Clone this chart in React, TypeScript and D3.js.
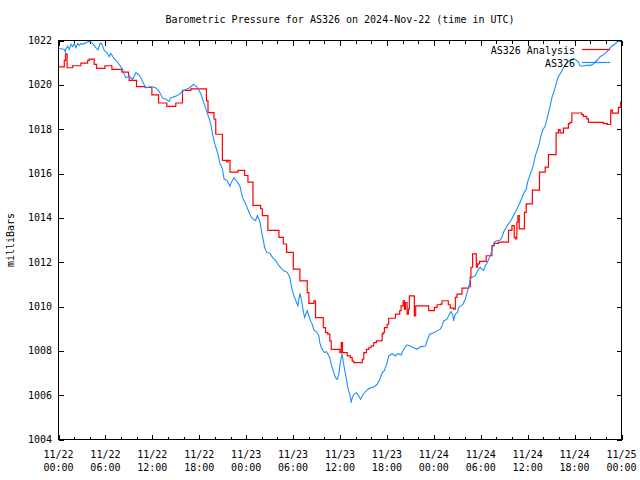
import React from "react";
import * as d3 from "d3";

const titleText = "Barometric Pressure for AS326 on 2024-Nov-22 (time in UTC)";
const yAxisLabel = "milliBars";
const seriesNames = ["AS326 Analysis", "AS326"];
const seriesColors = ["#ff0000", "#1e90ff"];

const yTickValues = [1004, 1006, 1008, 1010, 1012, 1014, 1016, 1018, 1020, 1022];
const xTickHours = [0, 6, 12, 18, 24, 30, 36, 42, 48, 54, 60, 66, 72];
const xTickDates = ["11/22", "11/22", "11/22", "11/22", "11/23", "11/23", "11/23", "11/23", "11/24", "11/24", "11/24", "11/24", "11/25"];
const xTickTimes = ["00:00", "06:00", "12:00", "18:00", "00:00", "06:00", "12:00", "18:00", "00:00", "06:00", "12:00", "18:00", "00:00"];

// AS326 Analysis (hours since 11/22 00:00 UTC, millibars) - stepped
const analysisHours = [
  0, 0.74, 0.9, 1.1, 1.81, 2.87, 3.73, 3.93, 4.57, 4.88, 5.94, 6.83, 8.11, 8.96, 9.04, 9.98,
  11.08, 11.94, 12.8, 13.85, 15.0, 15.86, 16.92, 18.92, 19.12, 19.89, 20.11, 20.96, 21.51, 21.68,
  21.93, 22.95, 23.81, 24.23, 24.87, 25.85, 26.07, 26.78, 28.19, 28.75, 29.17, 30.03, 30.87, 31.81,
  32.02, 32.66, 32.87, 33.86, 34.15, 34.44, 34.7, 34.88, 35.98, 36.16, 36.32, 36.92, 37.34, 37.56,
  37.76, 38.84, 39.04, 39.38, 39.68, 39.98, 40.32, 40.66, 41.39, 41.52, 41.68, 42.03, 42.23, 43.09,
  43.64, 43.81, 44.07, 44.24, 44.36, 44.58, 44.75, 44.87, 45.51, 45.68, 47.34, 48.07, 48.41, 48.83,
  49.05, 49.85, 50.1, 50.53, 50.75, 50.96, 51.6, 52.45, 52.66, 52.75, 52.96, 53.43, 53.6, 53.85,
  54.7, 55.43, 55.73, 56.28, 57.55, 57.99, 58.28, 58.45, 58.62, 58.75, 58.92, 59.59, 59.81, 60.6,
  61.51, 62.24, 62.66, 63.64, 63.94, 64.15, 64.57, 65.21, 65.43, 65.65, 66.92, 67.12, 67.56, 67.77,
  69.68, 70.19, 70.62, 70.83, 71.6, 71.9, 72
];
const analysisValues = [
  1020.81, 1021.1, 1021.4, 1020.77, 1020.86, 1020.98, 1021.1, 1021.16, 1020.92, 1020.74, 1020.86, 1020.7, 1020.57, 1020.39, 1020.2, 1019.92,
  1019.88, 1019.55, 1019.18, 1019.03, 1019.18, 1019.75, 1019.82, 1019.28, 1018.75, 1018.45, 1017.77, 1016.59, 1016.52, 1016.59,
  1016.06, 1016.14, 1015.91, 1015.61, 1014.56, 1014.41, 1014.1, 1013.43, 1013.12, 1012.82, 1012.44, 1011.69, 1011.16, 1010.63,
  1010.14, 1010.26, 1009.5, 1009.05, 1008.82, 1008.75, 1008.45, 1008.07, 1007.92, 1008.37, 1007.92, 1007.77, 1007.69, 1007.54,
  1007.47, 1007.62, 1007.92, 1008.07, 1008.14, 1008.22, 1008.37, 1008.45, 1008.75, 1008.82, 1009.05, 1009.2, 1009.47, 1009.66,
  1009.81, 1010.03, 1010.26, 1009.88, 1010.18, 1009.66, 1009.88, 1010.48, 1009.58, 1010.03, 1009.81, 1009.96, 1010.08, 1010.11,
  1010.26, 1010.08, 1009.93, 1009.88, 1010.41, 1010.56, 1010.83, 1010.89, 1011.34, 1011.77, 1012.37, 1011.77, 1011.92, 1012.04,
  1012.29, 1012.75, 1012.85, 1012.9, 1013.43, 1013.65, 1013.12, 1013.05, 1013.8, 1014.1, 1013.5, 1014.25, 1014.63, 1015.25,
  1016.06, 1016.29, 1016.85, 1017.83, 1017.98, 1017.83, 1018.05, 1018.25, 1018.31, 1018.73, 1018.66, 1018.58, 1018.46, 1018.31,
  1018.25, 1018.21, 1018.86, 1018.72, 1018.98, 1019.23, 1019.23
];

// AS326 observed
const obsHours = [
  0, 0.74, 0.87, 0.96, 1.17, 1.38, 1.6, 1.81, 2.02, 2.23, 2.45, 2.66, 2.87, 3.09, 3.51, 3.93, 4.37, 4.79,
  5.06, 5.32, 5.5, 5.83, 6.26, 6.47, 6.68, 7.1, 7.53, 7.76, 8.2, 8.4, 8.62, 9.04, 9.47, 9.89, 10.24, 10.53,
  10.83, 11.17, 11.59, 12.03, 12.45, 12.87, 13.3, 13.72, 14.15, 14.3, 14.58, 15.0, 15.42, 15.86, 16.28, 16.7,
  17.13, 17.26, 17.68, 18.19, 18.61, 19.05, 19.47, 19.69, 19.98, 20.32, 20.66, 20.96, 21.17, 21.51, 21.81, 21.93,
  22.11, 22.44, 22.88, 23.21, 23.52, 23.94, 24.36, 24.66, 25.0, 25.21, 25.43, 25.72, 25.94, 26.2, 26.36, 26.62,
  27.04, 27.35, 27.77, 28.19, 28.75, 29.26, 29.59, 29.81, 30.1, 30.45, 30.61, 30.87, 31.09, 31.3, 31.47, 31.81,
  32.02, 32.24, 32.45, 32.66, 33.0, 33.3, 33.42, 33.6, 33.86, 34.02, 34.28, 34.7, 34.88, 35.13, 35.43, 35.64,
  35.85, 35.98, 36.16, 36.28, 36.41, 36.58, 36.83, 37.0, 37.25, 37.43, 37.56, 37.76, 38.11, 38.4, 38.62, 38.84,
  39.13, 39.55, 39.9, 40.32, 40.75, 41.08, 41.39, 41.68, 42.03, 42.23, 42.67, 43.09, 43.38, 43.81, 44.15, 44.58,
  45.0, 45.42, 45.86, 46.28, 46.92, 47.21, 47.47, 47.98, 48.41, 48.83, 49.05, 49.25, 49.69, 49.89, 50.2, 50.45,
  50.53, 50.75, 51.04, 51.17, 51.47, 51.73, 52.02, 52.45, 52.66, 52.88, 53.3, 53.52, 53.72, 53.94, 54.15, 54.36,
  54.58, 54.79, 55.13, 55.43, 55.73, 56.07, 56.49, 56.71, 56.91, 57.26, 57.55, 57.86, 58.19, 58.53, 58.83, 59.04,
  59.47, 59.81, 59.98, 60.23, 60.54, 60.74, 60.96, 61.25, 61.51, 61.69, 61.94, 62.24, 62.45, 62.66, 62.88, 63.09,
  63.3, 63.51, 63.73, 63.94, 64.24, 64.57, 65.01, 65.43, 65.85, 66.19, 66.49, 66.7, 67.12, 67.56, 67.98, 68.33,
  68.62, 68.91, 69.26, 69.6, 70.02, 70.32, 70.75, 71.17, 71.39, 71.81, 72
];
const obsValues = [
  1021.65, 1021.6, 1021.48, 1021.63, 1021.75, 1021.6, 1021.83, 1021.72, 1021.87, 1021.67, 1021.87, 1021.78, 1021.87, 1021.83, 1021.9, 1021.96, 1021.87, 1021.67,
  1021.57, 1021.87, 1021.87, 1021.57, 1021.42, 1021.27, 1021.42, 1021.19, 1021.04, 1020.92, 1020.7, 1020.47, 1020.32, 1020.39, 1020.24, 1020.54, 1020.47, 1020.32,
  1020.09, 1019.86, 1019.91, 1019.91, 1019.86, 1019.71, 1019.41, 1019.35, 1019.25, 1019.4, 1019.44, 1019.49, 1019.57, 1019.71, 1019.79, 1019.86,
  1019.97, 1020.03, 1019.91, 1019.61, 1019.16, 1018.71, 1018.25, 1017.8, 1017.35, 1016.97, 1016.44, 1016.22, 1015.76, 1015.69, 1015.51, 1015.42,
  1015.61, 1015.81, 1015.61, 1015.42, 1014.93, 1014.63, 1014.25, 1014.03, 1013.91, 1013.88, 1014.1, 1013.88, 1013.43, 1012.97, 1012.67, 1012.44,
  1012.4, 1012.22, 1012.07, 1011.84, 1011.62, 1011.54, 1011.31, 1010.86, 1010.48, 1010.18, 1010.03, 1010.59, 1010.26, 1009.81, 1009.5, 1009.81,
  1009.58, 1009.35, 1009.2, 1008.93, 1008.87, 1008.67, 1008.37, 1008.14, 1007.99, 1007.92, 1007.96, 1007.69, 1007.39, 1007.09, 1006.79, 1006.71,
  1006.94, 1007.32, 1007.69, 1007.87, 1007.54, 1007.17, 1006.71, 1006.33, 1006.04, 1005.66, 1005.88, 1006.04, 1006.11, 1005.96, 1005.81, 1005.96,
  1006.11, 1006.26, 1006.33, 1006.37, 1006.49, 1006.71, 1007.01, 1007.12, 1007.47, 1007.77, 1007.87, 1007.77, 1007.87, 1007.81, 1008.07, 1008.27,
  1008.22, 1008.14, 1008.07, 1008.18, 1008.22, 1008.52, 1008.75, 1008.82, 1008.9, 1008.98, 1009.13, 1009.35, 1009.43, 1009.58, 1009.78, 1009.58,
  1009.35, 1009.66, 1009.73, 1009.95, 1010.03, 1010.11, 1010.33, 1010.86, 1011.24, 1011.31, 1011.39, 1011.54, 1011.69, 1011.77, 1011.69, 1011.62,
  1011.84, 1011.95, 1012.22, 1012.52, 1012.9, 1012.97, 1013.0, 1013.12, 1013.35, 1013.57, 1013.73, 1013.88, 1014.1, 1014.33, 1014.56, 1014.7,
  1015.1, 1015.27, 1015.6, 1015.87, 1016.17, 1016.4, 1016.77, 1017.08, 1017.38, 1017.68, 1017.98, 1018.13, 1018.43, 1018.73, 1019.04, 1019.41,
  1019.64, 1019.86, 1020.17, 1020.39, 1020.54, 1020.77, 1021.0, 1021.12, 1021.18, 1021.12, 1021.03, 1020.85, 1020.85, 1020.88, 1020.88, 1020.92,
  1021.03, 1021.12, 1021.27, 1021.33, 1021.45, 1021.57, 1021.75, 1021.83, 1021.93, 1021.98, 1021.98
];

const W = 640;
const H = 480;
const left = 58.5;
const right = 621.5;
const top = 40.5;
const bottom = 439.5;
const FONT = "'DejaVu Sans Mono', 'Liberation Mono', monospace";

export default function App() {
  const x = d3.scaleLinear().domain([0, 72]).range([left, right]);
  const y = d3.scaleLinear().domain([1004, 1022]).range([bottom, top]);

  const analysisPts: [number, number][] = analysisHours.map((h, i) => [h, analysisValues[i]]);
  const obsPts: [number, number][] = obsHours.map((h, i) => [h, obsValues[i]]);

  const stepLine = d3
    .line<[number, number]>()
    .x((d) => x(d[0]))
    .y((d) => y(d[1]))
    .curve(d3.curveStepAfter);
  const line = d3
    .line<[number, number]>()
    .x((d) => x(d[0]))
    .y((d) => y(d[1]));

  const minorHours = d3.range(0, 73, 2).filter((h) => h % 6 !== 0);

  return (
    <svg
      width={W}
      height={H}
      style={{ position: "absolute", left: 0, top: 0, background: "#fff" }}
      fontFamily={FONT}
      fontSize={10}
    >
      <rect x={0} y={0} width={W} height={H} fill="#fff" />
      <text x={340} y={23} textAnchor="middle" fill="#000">
        {titleText}
      </text>
      <text
        transform={`translate(13.5, ${(top + bottom) / 2}) rotate(-90)`}
        textAnchor="middle"
        fill="#000"
      >
        {yAxisLabel}
      </text>

      <g shapeRendering="crispEdges" stroke="#000" strokeWidth={1}>
        {yTickValues.map((v) => (
          <g key={v}>
            <line x1={left} x2={left + 5} y1={Math.round(y(v)) + 0.5} y2={Math.round(y(v)) + 0.5} />
            <line x1={right} x2={right - 5} y1={Math.round(y(v)) + 0.5} y2={Math.round(y(v)) + 0.5} />
          </g>
        ))}
        {xTickHours.map((h) => (
          <g key={"M" + h}>
            <line x1={Math.round(x(h)) + 0.5} x2={Math.round(x(h)) + 0.5} y1={bottom} y2={bottom - 5} />
            <line x1={Math.round(x(h)) + 0.5} x2={Math.round(x(h)) + 0.5} y1={top} y2={top + 5} />
          </g>
        ))}
        {minorHours.map((h) => (
          <g key={"m" + h}>
            <line x1={Math.round(x(h)) + 0.5} x2={Math.round(x(h)) + 0.5} y1={bottom} y2={bottom - 3} />
            <line x1={Math.round(x(h)) + 0.5} x2={Math.round(x(h)) + 0.5} y1={top} y2={top + 3} />
          </g>
        ))}
      </g>

      {yTickValues.map((v) => (
        <text key={"yl" + v} x={52} y={y(v) + 3.5} textAnchor="end" fill="#000">
          {v}
        </text>
      ))}
      {xTickHours.map((h, i) => (
        <g key={"xl" + h}>
          <text x={x(h)} y={458} textAnchor="middle" fill="#000">
            {xTickDates[i]}
          </text>
          <text x={x(h)} y={471} textAnchor="middle" fill="#000">
            {xTickTimes[i]}
          </text>
        </g>
      ))}

      <path d={stepLine(analysisPts) || ""} fill="none" stroke={seriesColors[0]} strokeWidth={1.2} />
      <path d={line(obsPts) || ""} fill="none" stroke={seriesColors[1]} strokeWidth={1.1} />

      <rect x={left} y={top} width={right - left} height={bottom - top} fill="none" stroke="#000" strokeWidth={1} shapeRendering="crispEdges" />

      {seriesNames.map((name, i) => (
        <g key={name}>
          <text x={575} y={53.5 + i * 13} textAnchor="end" fill="#000">
            {name}
          </text>
          <line x1={582} x2={610} y1={49.5 + i * 13} y2={49.5 + i * 13} stroke={seriesColors[i]} strokeWidth={1.2} />
        </g>
      ))}
    </svg>
  );
}
